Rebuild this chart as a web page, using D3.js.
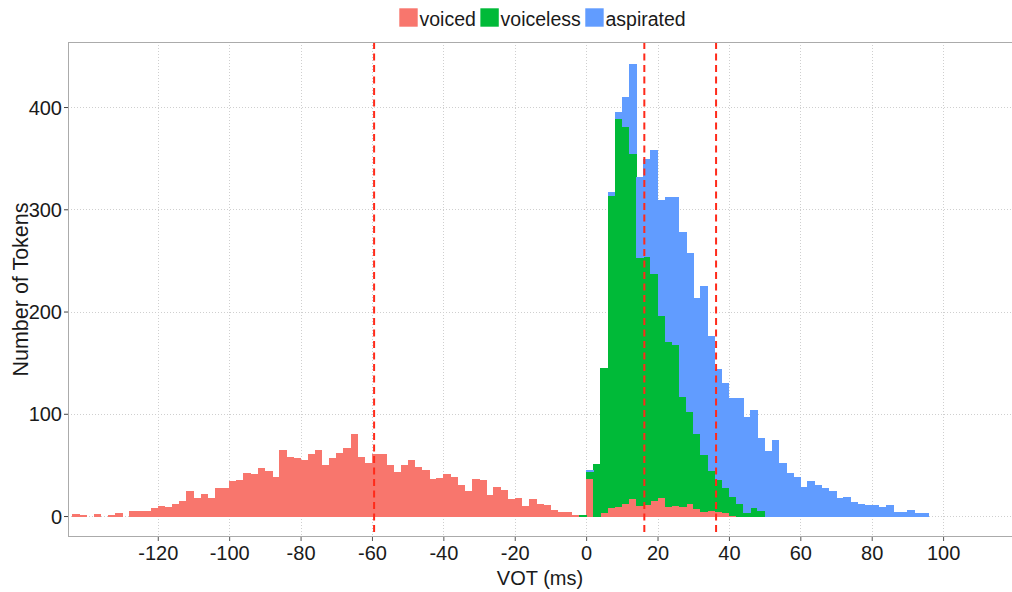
<!DOCTYPE html>
<html>
<head>
<meta charset="utf-8">
<script src="https://cdn.jsdelivr.net/npm/d3@7"></script>
<style>
  html, body { margin: 0; padding: 0; background: #ffffff; }
  svg { display: block; font-family: "Liberation Sans", Arial, Helvetica, sans-serif; }
</style>
</head>
<body>
<svg id="chart" width="1012" height="592"></svg>
<script>
// VOT histogram, 2 ms bins, stacked by stop category
const binWidth = 2;

const categories = ["voiced", "voiceless", "aspirated"];
const colors = ["#F8766D", "#00BA38", "#619CFF"];

// counts per bin; each array starts at the given lower bin edge (ms)
const voicedStart = -144;
const voicedCounts = [
  2, 1, 0, 2, 0, 1, 3, 0, 5, 5, 5, 8, 10, 9, 12, 15, 24, 18, 22, 18,
  27, 27, 34, 35, 42, 41, 47, 44, 38, 65, 58, 57, 55, 61, 65, 50, 57, 62, 67, 80,
  58, 52, 61, 61, 50, 43, 50, 55, 48, 45, 36, 37, 41, 38, 30, 24, 36, 35, 21, 28,
  25, 17, 18, 10, 17, 12, 11, 6, 4, 4, 1, 0,
  37, 0, 3, 8, 9, 12, 17, 10, 11, 15, 18, 9, 10, 9, 12, 7, 4, 5, 4, 3, 1
];

const voicelessStart = -2;
const voicelessCounts = [
  1, 7, 51, 142, 305, 380, 369, 338, 243, 243, 222, 178, 162, 158, 108, 90,
  74, 56, 40, 32, 25, 18, 12, 3, 8, 5
];

const aspiratedStart = 0;
const aspiratedCounts = [
  1, 0, 0, 4, 6, 29, 87, 79, 95, 121, 113, 141, 144, 161, 155, 132, 165, 131,
  108, 102, 96, 103, 94, 96, 71, 64, 74, 52, 42, 38, 28, 34, 30, 27, 24, 18,
  19, 14, 12, 11, 11, 9, 11, 4, 4, 6, 3, 3
];

// reference lines (ms)
const cutoffs = [-59.4, 16.3, 36.4];

const xTicks = [-120, -100, -80, -60, -40, -20, 0, 20, 40, 60, 80, 100];
const yTicks = [0, 100, 200, 300, 400];

// layout
const panel = { left: 68, top: 42, right: 1012, bottom: 537 };

const svg = d3.select("#chart");

const x = d3.scaleLinear().domain([-145.15, 119.3]).range([panel.left, panel.right]);
const y = d3.scaleLinear().domain([-20.5, 463.6]).range([panel.bottom, panel.top]);

// assemble one row per bin
const series = [
  { key: "voiced", start: voicedStart, counts: voicedCounts },
  { key: "voiceless", start: voicelessStart, counts: voicelessCounts },
  { key: "aspirated", start: aspiratedStart, counts: aspiratedCounts }
];
const rowsByEdge = new Map();
series.forEach(s => {
  s.counts.forEach((c, i) => {
    const edge = s.start + i * binWidth;
    if (!rowsByEdge.has(edge)) {
      const row = { x0: edge };
      categories.forEach(k => row[k] = 0);
      rowsByEdge.set(edge, row);
    }
    rowsByEdge.get(edge)[s.key] = c;
  });
});
const rows = Array.from(rowsByEdge.values()).sort((a, b) => a.x0 - b.x0);
const stacked = d3.stack().keys(categories)(rows);

// clip for panel contents
svg.append("defs").append("clipPath").attr("id", "panelClip")
  .append("rect")
  .attr("x", panel.left).attr("y", panel.top)
  .attr("width", panel.right - panel.left).attr("height", panel.bottom - panel.top);

// grid
const grid = svg.append("g").attr("clip-path", "url(#panelClip)");
grid.selectAll("line.gx").data(xTicks).join("line")
  .attr("x1", d => Math.round(x(d)) + 0.5).attr("x2", d => Math.round(x(d)) + 0.5)
  .attr("y1", panel.top).attr("y2", panel.bottom)
  .attr("stroke", "#cfcfcf").attr("stroke-width", 1).attr("stroke-dasharray", "1,2");
grid.selectAll("line.gy").data(yTicks).join("line")
  .attr("x1", panel.left).attr("x2", panel.right)
  .attr("y1", d => Math.round(y(d)) + 0.5).attr("y2", d => Math.round(y(d)) + 0.5)
  .attr("stroke", "#cfcfcf").attr("stroke-width", 1).attr("stroke-dasharray", "1,2");

// stacked bars
const bars = svg.append("g").attr("clip-path", "url(#panelClip)")
  .attr("shape-rendering", "crispEdges");
stacked.forEach((layer, li) => {
  bars.append("g").attr("fill", colors[li])
    .selectAll("rect")
    .data(layer.filter(d => d[1] > d[0]))
    .join("rect")
    .attr("x", d => x(d.data.x0))
    .attr("width", d => x(d.data.x0 + binWidth) - x(d.data.x0) + 0.5)
    .attr("y", d => y(d[1]))
    .attr("height", d => y(d[0]) - y(d[1]) + 0.5);
});

// cutoff lines
svg.append("g").attr("clip-path", "url(#panelClip)")
  .selectAll("line").data(cutoffs).join("line")
  .attr("x1", d => x(d)).attr("x2", d => x(d))
  .attr("y1", panel.top).attr("y2", panel.bottom)
  .attr("stroke", "#FF2A1A").attr("stroke-width", 2)
  .attr("stroke-dasharray", "7,4.5");

// panel border
svg.append("rect")
  .attr("x", panel.left + 0.5).attr("y", panel.top + 0.5)
  .attr("width", panel.right - panel.left).attr("height", panel.bottom - panel.top - 1)
  .attr("fill", "none").attr("stroke", "#ababab").attr("stroke-width", 1);

// axes (plain hyphen for negative labels)
const fmt = d => String(d);
const xAxis = d3.axisBottom(x).tickValues(xTicks).tickSize(4).tickPadding(4).tickFormat(fmt);
const gx = svg.append("g").attr("transform", `translate(0,${panel.bottom})`).call(xAxis);
gx.select(".domain").remove();
gx.selectAll(".tick line").attr("stroke", "#555");
gx.selectAll(".tick text")
  .attr("font-size", 20).attr("fill", "#1a1a1a")
  .attr("font-family", "'Liberation Sans', Arial, sans-serif")
  .attr("dy", null).attr("y", 23);

const yAxis = d3.axisLeft(y).tickValues(yTicks).tickSize(4).tickPadding(2).tickFormat(fmt);
const gy = svg.append("g").attr("transform", `translate(${panel.left},0)`).call(yAxis);
gy.select(".domain").remove();
gy.selectAll(".tick line").attr("stroke", "#444");
gy.selectAll(".tick text")
  .attr("font-size", 20).attr("fill", "#1a1a1a")
  .attr("font-family", "'Liberation Sans', Arial, sans-serif")
  .attr("dy", "0.36em");

// axis titles
svg.append("text")
  .attr("x", (panel.left + panel.right) / 2).attr("y", 585)
  .attr("text-anchor", "middle").attr("font-size", 20).attr("fill", "#1a1a1a")
  .text("VOT (ms)");
svg.append("text")
  .attr("transform", `translate(28,${(panel.top + panel.bottom) / 2}) rotate(-90)`)
  .attr("text-anchor", "middle").attr("font-size", 21.5).attr("fill", "#1a1a1a")
  .text("Number of Tokens");

// legend, centred above the panel
const legend = svg.append("g");
const keySize = 18.4;
let cursor = 0;
categories.forEach((c, i) => {
  const item = legend.append("g").attr("transform", `translate(${cursor},0)`);
  item.append("rect")
    .attr("x", 0).attr("y", 8.3).attr("width", keySize).attr("height", keySize)
    .attr("fill", colors[i]);
  const t = item.append("text")
    .attr("x", keySize + 1.8).attr("y", 25.6)
    .attr("font-size", 19.5).attr("fill", "#1a1a1a")
    .text(c);
  cursor += keySize + 1.8 + t.node().getComputedTextLength() + 4.5;
});
const legendWidth = cursor - 4.5;
legend.attr("transform", `translate(${542.5 - legendWidth / 2},0)`);
</script>
</body>
</html>
